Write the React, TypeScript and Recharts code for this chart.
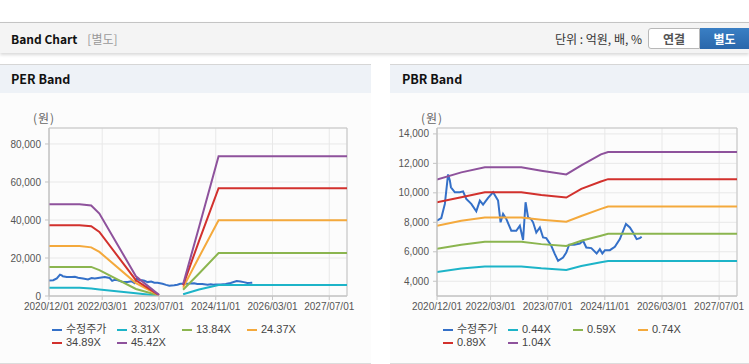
import React from "react";
import {
  LineChart,
  Line,
  XAxis,
  YAxis,
  CartesianGrid,
  ReferenceArea,
} from "recharts";

// x positions are months counted from 2020/12/01
const xTickMonths = [0, 15, 31, 47, 63, 79];
const xTickLabels = ["2020/12/01", "2022/03/01", "2023/07/01", "2024/11/01", "2026/03/01", "2027/07/01"];

// 수정주가 (shared by both charts)
const priceMonths = [
  0, 1.2, 2.2, 3.1, 3.6, 3.9, 5, 6.4, 7.3, 8.2, 9.6, 11, 12, 12.9, 14.3, 15.7, 17.1, 17.8, 18.5, 19.4,
  20.8, 22.2, 23.2, 24.1, 24.8, 25.5, 26.3, 26.9, 27.8, 28.8, 29.7, 30.6, 32, 33, 33.9, 35.3, 36.2, 37,
  38.4, 40, 40.9, 41.8, 43.2, 44.7, 45.6, 46.3, 47, 48.4, 49.8, 51.2, 52.9, 54, 54.9, 55.9, 56.8, 57.3,
];
const priceValues = [
  8110, 8290, 9250, 11250, 10840, 10380, 10040, 10040, 10100, 9590, 9250, 8750, 9475, 9200, 9660, 10040,
  9475, 8000, 8570, 8230, 7430, 7430, 7770, 6800, 9360, 8340, 8230, 8000, 7310, 7650, 6970, 6930, 6410,
  5840, 5385, 5610, 5950, 6480, 6480, 6560, 6750, 6290, 6250, 5880, 6180, 5880, 6100, 6110, 6340, 6860,
  7890, 7650, 7310, 6860, 6930, 7020,
];

// PER bands (null = no data)
const perMonths = [0, 8.6, 11.9, 14.2, 24.5, 31, 34.5, 37.8, 42.3, 47.8, 84];
const per331 = [4300, 4300, 3900, 3400, 1400, 100, null, 900, 3400, 5800, 5800];
const per1384 = [15300, 15300, 15300, 13600, 3700, 300, null, 3300, 11800, 22600, 22600];
const per2437 = [26300, 26300, 25600, 23200, 6800, 400, null, 4400, 20500, 39800, 39800];
const per3489 = [37200, 37200, 36700, 33700, 8300, 500, null, 5600, 29000, 56700, 56700];
const per4542 = [48300, 48300, 47600, 43400, 10400, 600, null, 6200, 36300, 73500, 73500];

// PBR bands
const pbrMonths = [0, 6.8, 13.4, 23.6, 29.2, 36.2, 40.4, 45.9, 47.9, 84];
const pbr044 = [4630, 4860, 5000, 5000, 4880, 4770, 5040, 5290, 5380, 5380];
const pbr059 = [6200, 6470, 6680, 6680, 6520, 6400, 6750, 7090, 7220, 7220];
const pbr074 = [7770, 8110, 8320, 8320, 8180, 8040, 8430, 8910, 9070, 9070];
const pbr089 = [9360, 9700, 10040, 10040, 9860, 9680, 10270, 10770, 10930, 10930];
const pbr104 = [10900, 11390, 11730, 11730, 11500, 11250, 11860, 12610, 12770, 12770];

const perTicks = [0, 20000, 40000, 60000, 80000];
const pbrTicks = [4000, 6000, 8000, 10000, 12000, 14000];

const C_PRICE = "#3470c8";
const C_1 = "#1db4c8";
const C_2 = "#8bb54f";
const C_3 = "#f4a93c";
const C_4 = "#d2312d";
const C_5 = "#8e529c";

const toRows = (months: number[], values: (number | null)[]) =>
  months.map((m, i) => ({ m, v: values[i] }));

const priceRows = toRows(priceMonths, priceValues);

const perSeries = [
  { name: "3.31X", color: C_1, rows: toRows(perMonths, per331) },
  { name: "13.84X", color: C_2, rows: toRows(perMonths, per1384) },
  { name: "24.37X", color: C_3, rows: toRows(perMonths, per2437) },
  { name: "34.89X", color: C_4, rows: toRows(perMonths, per3489) },
  { name: "45.42X", color: C_5, rows: toRows(perMonths, per4542) },
];

const pbrSeries = [
  { name: "0.44X", color: C_1, rows: toRows(pbrMonths, pbr044) },
  { name: "0.59X", color: C_2, rows: toRows(pbrMonths, pbr059) },
  { name: "0.74X", color: C_3, rows: toRows(pbrMonths, pbr074) },
  { name: "0.89X", color: C_4, rows: toRows(pbrMonths, pbr089) },
  { name: "1.04X", color: C_5, rows: toRows(pbrMonths, pbr104) },
];

const LATIN = '"Liberation Sans", Arial, "Noto Sans CJK KR", sans-serif';
const KR = '"Noto Sans CJK KR", "Liberation Sans", sans-serif';

const tickStyle = { fontSize: 10, fill: "#555", fontFamily: LATIN };
const fmtX = (m: number) => xTickLabels[xTickMonths.indexOf(m)] ?? "";
const fmtY = (v: number) => v.toLocaleString("en-US");

function BandChart({
  width,
  yWidth,
  right,
  domain,
  ticks,
  series,
}: {
  width: number;
  yWidth: number;
  right: number;
  domain: [number, number];
  ticks: number[];
  series: { name: string; color: string; rows: { m: number; v: number | null }[] }[];
}) {
  return (
    <LineChart width={width} height={211} margin={{ top: 18, right, bottom: 0, left: 0 }}>
      <CartesianGrid stroke="#e8e8e8" />
      <XAxis
        dataKey="m"
        type="number"
        domain={[0, 84]}
        ticks={xTickMonths}
        interval={0}
        allowDataOverflow
        tickFormatter={fmtX}
        tick={tickStyle}
        tickSize={4}
        tickMargin={3}
        height={25}
        stroke="#c4c4c4"
      />
      <YAxis
        type="number"
        domain={domain}
        ticks={ticks}
        interval={0}
        allowDataOverflow
        tickFormatter={fmtY}
        tick={tickStyle}
        tickSize={4}
        tickMargin={4}
        width={yWidth}
        stroke="#c4c4c4"
      />
      <ReferenceArea
        x1={0}
        x2={84}
        y1={domain[0]}
        y2={domain[1]}
        fill="none"
        stroke="#c4c4c4"
        strokeWidth={1}
      />
      <Line
        data={priceRows}
        dataKey="v"
        name="수정주가"
        stroke={C_PRICE}
        strokeWidth={2}
        dot={false}
        isAnimationActive={false}
      />
      {series.map((s) => (
        <Line
          key={s.name}
          data={s.rows}
          dataKey="v"
          name={s.name}
          stroke={s.color}
          strokeWidth={2}
          dot={false}
          connectNulls={false}
          isAnimationActive={false}
        />
      ))}
    </LineChart>
  );
}

function LegendBox({
  left,
  items,
}: {
  left: number;
  items: { name: string; color: string }[];
}) {
  return (
    <div
      style={{
        position: "absolute",
        left,
        top: 323,
        width: 262,
        display: "flex",
        flexWrap: "wrap",
        fontFamily: LATIN,
        fontSize: 11,
        color: "#444",
      }}
    >
      {items.map((it) => (
        <div key={it.name} style={{ width: 65, height: 13, display: "flex", alignItems: "center" }}>
          <span style={{ display: "inline-block", width: 10, height: 2, background: it.color, marginRight: 4 }} />
          <span style={{ lineHeight: "13px" }}>{it.name}</span>
        </div>
      ))}
    </div>
  );
}

function Panel({ left, width, title }: { left: number; width: number; title: string }) {
  return (
    <div
      style={{
        position: "absolute",
        left,
        top: 64,
        width,
        height: 298,
        borderTop: "1px solid #d6d6d6",
        borderBottom: "1px solid #dcdcdc",
        background: "#fcfcfc",
      }}
    >
      <div
        style={{
          height: 28,
          background: "#eef2f7",
          fontFamily: KR,
          fontWeight: 700,
          fontSize: 12.5,
          lineHeight: "28px",
          paddingLeft: left === 0 ? 11 : 12,
          color: "#111",
        }}
      >
        {title}
      </div>
    </div>
  );
}

export default function App() {
  const legendPer = [{ name: "수정주가", color: C_PRICE }, ...perSeries];
  const legendPbr = [{ name: "수정주가", color: C_PRICE }, ...pbrSeries];
  return (
    <div
      style={{
        position: "absolute",
        left: 0,
        top: 0,
        width: 749,
        height: 364,
        background: "#fff",
        overflow: "hidden",
        fontFamily: KR,
      }}
    >
      <div
        style={{
          position: "absolute",
          left: 0,
          top: 22,
          width: 749,
          height: 30,
          borderTop: "1px solid #c4c4c4",
          background: "#f4f4f4",
          boxShadow: "0 2px 3px rgba(0,0,0,0.15)",
          zIndex: 2,
        }}
      >
        <span
          style={{
            position: "absolute",
            left: 11,
            top: 0,
            lineHeight: "31px",
            fontSize: 12,
            fontWeight: 700,
            color: "#111",
          }}
        >
          Band Chart
          <span style={{ fontWeight: 400, color: "#999", marginLeft: 10, fontSize: 12 }}>[별도]</span>
        </span>
        <span
          style={{
            position: "absolute",
            right: 107,
            top: 0,
            lineHeight: "31px",
            fontSize: 12,
            color: "#333",
          }}
        >
          단위 : 억원, 배, %
        </span>
        <div
          style={{
            position: "absolute",
            left: 648,
            top: 5,
            width: 50,
            height: 19,
            border: "1px solid #b8b8b8",
            borderRadius: "3px 0 0 3px",
            background: "#fff",
            color: "#555",
            fontSize: 12,
            fontWeight: 700,
            textAlign: "center",
            lineHeight: "19px",
          }}
        >
          연결
        </div>
        <div
          style={{
            position: "absolute",
            left: 700,
            top: 5,
            width: 49,
            height: 21,
            background: "linear-gradient(#3a7fc4, #2a67ab)",
            color: "#fff",
            fontSize: 12,
            fontWeight: 700,
            textAlign: "center",
            lineHeight: "21px",
          }}
        >
          별도
        </div>
      </div>

      <Panel left={0} width={371} title="PER Band" />
      <Panel left={390} width={359} title="PBR Band" />

      <div style={{ position: "absolute", left: 33, top: 110, fontSize: 12, color: "#666", fontFamily: KR, lineHeight: "16px", letterSpacing: 1 }}>
        (원)
      </div>
      <div style={{ position: "absolute", left: 421, top: 110, fontSize: 12, color: "#666", fontFamily: KR, lineHeight: "16px", letterSpacing: 1 }}>
        (원)
      </div>

      <div style={{ position: "absolute", left: 0, top: 110 }}>
        <BandChart width={371} yWidth={49} right={24} domain={[0, 88400]} ticks={perTicks} series={perSeries} />
      </div>
      <div style={{ position: "absolute", left: 390, top: 110 }}>
        <BandChart width={359} yWidth={47} right={12} domain={[3000, 14400]} ticks={pbrTicks} series={pbrSeries} />
      </div>

      <LegendBox left={52} items={legendPer} />
      <LegendBox left={443} items={legendPbr} />
    </div>
  );
}
